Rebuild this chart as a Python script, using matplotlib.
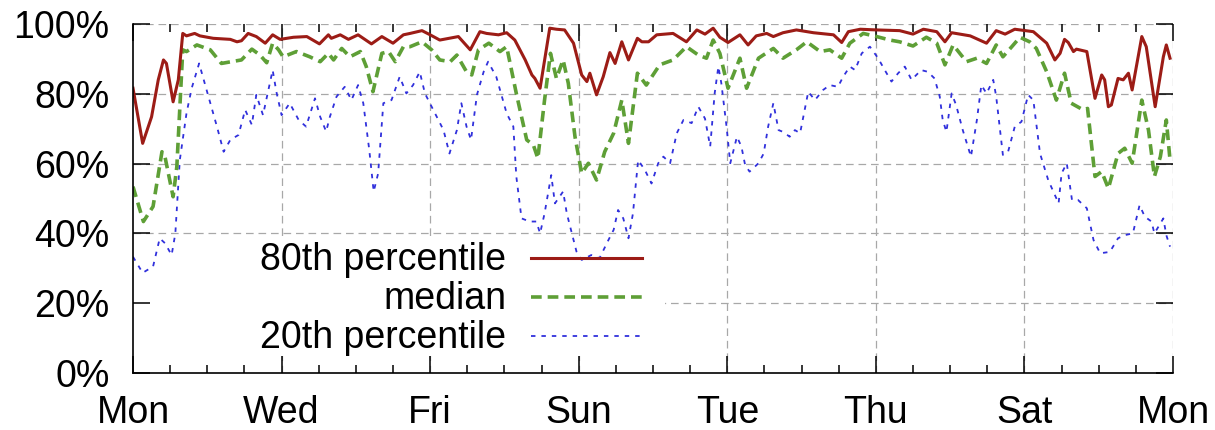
import matplotlib
matplotlib.use("Agg")
import matplotlib.pyplot as plt
from matplotlib.patches import Rectangle

plt.rcParams['font.family'] = ['Liberation Sans', 'DejaVu Sans']
plt.rcParams['lines.scale_dashes'] = False

# ---------------- data (x in days since Monday 00:00) ----------------
day_ticks = [0, 2, 4, 6, 8, 10, 12, 14]
day_labels = ["Mon", "Wed", "Fri", "Sun", "Tue", "Thu", "Sat", "Mon"]
pct_ticks = [0, 20, 40, 60, 80, 100]
pct_labels = ["0%", "20%", "40%", "60%", "80%", "100%"]

series_labels = ["80th percentile", "median", "20th percentile"]

days_p80 = [
    0.00, 0.13, 0.25, 0.34, 0.41, 0.45, 0.54, 0.61, 0.67, 0.72,
    0.83, 0.90, 1.08, 1.31, 1.40, 1.46, 1.55, 1.66, 1.78, 1.88,
    1.98, 2.16, 2.34, 2.51, 2.63, 2.67, 2.79, 2.90, 3.03, 3.21,
    3.35, 3.50, 3.64, 3.73, 3.89, 4.00, 4.13, 4.38, 4.54, 4.67,
    4.76, 4.92, 5.03, 5.14, 5.28, 5.37, 5.41, 5.48, 5.61, 5.70,
    5.81, 5.93, 6.04, 6.11, 6.15, 6.24, 6.33, 6.42, 6.49, 6.58,
    6.67, 6.79, 6.85, 6.94, 7.05, 7.27, 7.45, 7.59, 7.70, 7.81,
    7.90, 8.01, 8.17, 8.28, 8.39, 8.53, 8.62, 8.75, 8.93, 9.16,
    9.43, 9.54, 9.63, 9.79, 10.01, 10.32, 10.50, 10.64, 10.82, 10.93,
    11.02, 11.27, 11.49, 11.62, 11.74, 11.87, 12.12, 12.30, 12.41, 12.48,
    12.54, 12.59, 12.66, 12.70, 12.84, 12.95, 13.04, 13.08, 13.13, 13.17,
    13.26, 13.33, 13.40, 13.45, 13.58, 13.64, 13.76, 13.87, 13.91, 13.96]
p80 = [
    81.6, 65.8, 73.4, 84.0, 89.7, 88.7, 77.7, 84.0, 97.3, 96.6,
    97.3, 96.6, 95.9, 95.6, 94.9, 95.2, 97.3, 96.4, 94.5, 96.9,
    95.6, 96.2, 96.4, 94.3, 96.9, 95.9, 96.9, 95.6, 96.9, 94.3,
    96.4, 94.5, 96.9, 97.3, 98.1, 96.9, 95.4, 96.4, 92.6, 97.8,
    97.3, 96.9, 97.5, 95.4, 89.7, 85.4, 84.4, 81.6, 98.8, 98.5,
    98.3, 94.5, 85.4, 83.5, 85.9, 79.7, 84.9, 91.8, 88.7, 94.9,
    89.7, 95.9, 94.9, 94.9, 96.9, 97.3, 94.9, 98.3, 97.1, 98.8,
    96.2, 94.7, 96.9, 94.0, 96.6, 97.3, 96.4, 97.5, 98.3, 97.5,
    96.9, 94.7, 97.8, 98.5, 98.3, 98.1, 97.1, 98.5, 97.8, 94.9,
    97.5, 96.6, 94.5, 98.1, 97.1, 98.5, 97.8, 94.5, 89.7, 91.6,
    95.6, 94.7, 92.1, 92.8, 92.1, 78.7, 85.4, 84.0, 76.3, 76.8,
    84.4, 84.0, 85.9, 81.1, 96.4, 93.5, 76.3, 90.6, 94.0, 90.2]

days_med = [
    0.00, 0.14, 0.27, 0.39, 0.43, 0.54, 0.59, 0.67, 0.72, 0.86,
    1.04, 1.19, 1.35, 1.46, 1.60, 1.71, 1.80, 1.88, 1.96, 2.02,
    2.20, 2.38, 2.52, 2.63, 2.70, 2.81, 2.92, 3.06, 3.14, 3.23,
    3.35, 3.44, 3.53, 3.64, 3.73, 3.89, 4.02, 4.13, 4.27, 4.36,
    4.49, 4.56, 4.65, 4.79, 4.94, 5.03, 5.16, 5.30, 5.39, 5.45,
    5.54, 5.62, 5.70, 5.79, 5.86, 5.95, 6.04, 6.13, 6.24, 6.35,
    6.47, 6.58, 6.67, 6.79, 6.91, 7.09, 7.27, 7.45, 7.61, 7.72,
    7.81, 7.90, 8.01, 8.17, 8.26, 8.42, 8.62, 8.75, 8.93, 9.07,
    9.25, 9.38, 9.54, 9.65, 9.83, 10.01, 10.19, 10.32, 10.50, 10.68,
    10.82, 10.93, 11.04, 11.22, 11.36, 11.49, 11.62, 11.71, 11.83, 11.94,
    12.07, 12.16, 12.30, 12.43, 12.54, 12.63, 12.79, 12.85, 12.95, 13.04,
    13.13, 13.26, 13.35, 13.45, 13.58, 13.67, 13.75, 13.83, 13.91, 13.96]
med = [
    53.4, 43.4, 47.7, 63.4, 62.0, 50.5, 59.1, 92.6, 92.1, 94.0,
    92.6, 88.7, 89.3, 89.7, 92.8, 91.1, 88.9, 94.5, 92.6, 90.6,
    92.1, 90.6, 89.2, 91.6, 89.7, 93.0, 90.6, 92.1, 87.8, 80.6,
    91.6, 92.1, 89.2, 93.5, 93.5, 94.9, 92.6, 89.7, 89.2, 91.1,
    86.3, 85.4, 92.6, 94.5, 92.1, 93.5, 80.1, 66.8, 65.3, 61.5,
    78.2, 91.6, 84.4, 89.7, 83.0, 67.7, 57.2, 60.1, 55.3, 63.4,
    68.7, 78.2, 65.8, 85.9, 82.5, 88.3, 89.7, 93.5, 91.1, 90.2,
    95.4, 91.6, 81.6, 90.2, 81.6, 90.2, 93.0, 90.2, 92.6, 94.9,
    92.1, 92.6, 90.2, 94.5, 97.3, 96.4, 95.4, 94.9, 93.7, 96.2,
    94.5, 88.3, 94.0, 89.2, 90.2, 88.7, 94.0, 90.6, 93.5, 96.2,
    94.9, 93.0, 86.3, 78.2, 85.9, 77.3, 75.4, 75.8, 56.3, 57.7,
    52.9, 62.9, 64.4, 60.1, 78.2, 69.6, 56.3, 62.0, 72.5, 61.0]

days_p20 = [
    0.00, 0.13, 0.27, 0.36, 0.43, 0.52, 0.57, 0.63, 0.72, 0.79,
    0.89, 1.01, 1.13, 1.22, 1.31, 1.42, 1.51, 1.60, 1.66, 1.75,
    1.88, 1.93, 2.00, 2.11, 2.23, 2.33, 2.45, 2.52, 2.60, 2.65,
    2.74, 2.85, 2.94, 3.03, 3.10, 3.18, 3.24, 3.30, 3.37, 3.48,
    3.59, 3.68, 3.77, 3.86, 3.93, 4.02, 4.18, 4.26, 4.36, 4.42,
    4.49, 4.55, 4.63, 4.72, 4.78, 4.89, 5.03, 5.12, 5.16, 5.23,
    5.34, 5.43, 5.48, 5.54, 5.63, 5.68, 5.79, 5.84, 5.93, 5.97,
    6.04, 6.17, 6.28, 6.40, 6.47, 6.53, 6.60, 6.67, 6.73, 6.80,
    6.89, 6.98, 7.07, 7.14, 7.23, 7.32, 7.41, 7.52, 7.61, 7.70,
    7.77, 7.83, 7.88, 7.92, 7.99, 8.04, 8.13, 8.19, 8.24, 8.30,
    8.42, 8.49, 8.55, 8.62, 8.69, 8.75, 8.84, 8.91, 8.98, 9.09,
    9.18, 9.29, 9.38, 9.49, 9.56, 9.65, 9.72, 9.81, 9.92, 10.03,
    10.12, 10.21, 10.30, 10.39, 10.48, 10.61, 10.70, 10.79, 10.86, 10.90,
    10.95, 11.02, 11.08, 11.17, 11.28, 11.36, 11.42, 11.49, 11.58, 11.62,
    11.71, 11.78, 11.87, 11.96, 12.05, 12.12, 12.21, 12.32, 12.46, 12.50,
    12.57, 12.64, 12.72, 12.84, 12.93, 13.02, 13.15, 13.26, 13.35, 13.46,
    13.55, 13.62, 13.71, 13.75, 13.87, 13.91, 13.96]
p20 = [
    33.3, 28.7, 30.5, 38.6, 37.2, 33.8, 40.0, 61.0, 74.4, 81.6,
    88.7, 79.7, 70.6, 63.4, 66.8, 68.2, 75.4, 71.1, 79.7, 73.9,
    86.8, 80.6, 73.9, 77.3, 72.5, 70.6, 78.7, 73.4, 69.2, 73.4,
    79.2, 82.0, 78.2, 82.5, 77.3, 64.0, 52.0, 57.2, 77.3, 78.2,
    84.9, 80.1, 82.5, 86.3, 80.1, 76.3, 69.6, 62.9, 69.6, 77.3,
    70.6, 66.8, 79.7, 86.3, 89.2, 84.9, 74.4, 70.6, 56.3, 44.3,
    43.4, 43.4, 40.0, 45.7, 56.7, 48.6, 52.0, 45.7, 38.1, 34.8,
    32.4, 33.8, 32.9, 38.1, 41.0, 46.7, 44.3, 38.6, 45.7, 61.0,
    58.2, 54.3, 60.1, 62.0, 60.1, 68.7, 72.5, 71.6, 76.3, 72.9,
    64.9, 80.1, 87.8, 83.0, 70.6, 60.1, 67.7, 64.9, 59.6, 57.7,
    60.1, 62.9, 70.6, 77.3, 69.6, 69.1, 67.7, 69.6, 68.7, 80.6,
    78.2, 81.1, 82.5, 82.0, 84.9, 87.8, 86.8, 91.6, 93.5, 90.2,
    86.8, 83.5, 85.9, 87.8, 84.0, 86.8, 86.3, 84.4, 79.2, 72.5,
    69.1, 80.1, 76.8, 69.6, 62.0, 72.5, 82.5, 80.1, 84.0, 79.2,
    62.5, 63.4, 70.6, 72.0, 79.7, 78.2, 62.9, 55.3, 48.6, 57.2,
    60.1, 49.6, 49.6, 47.2, 38.1, 34.3, 34.7, 38.6, 39.5, 40.0,
    48.1, 44.8, 43.4, 40.0, 44.3, 39.5, 36.2]

# ---------------- styles ----------------
RED = "#9c1c16"
GREEN = "#5e9f36"
BLUE = "#3030dc"
GRID = "#a8a8a8"
FS = 27

fig = plt.figure(figsize=(12.15, 4.30), dpi=100)
ax = fig.add_axes([133 / 1215, 57 / 430, 1040 / 1215, 349 / 430])
ax.set_xlim(0, 14)
ax.set_ylim(0, 100)

# gridlines (drawn manually so the key box can hide them but not the ticks)
for yv in pct_ticks[1:]:
    ax.axhline(yv, color=GRID, lw=0.9, dashes=(5.5, 3.5), zorder=0.6)
for xv in day_ticks[1:]:
    ax.axvline(xv, color=GRID, lw=0.9, dashes=(5.5, 3.5), zorder=0.6)

# opaque key area
ax.add_patch(Rectangle((0, 0.049), 0.5115, 0.338, transform=ax.transAxes,
                       facecolor="white", edgecolor="none", zorder=1.0))

# data
ax.plot(days_p80, p80, color=RED, lw=2.2, solid_joinstyle="round", zorder=2.3)
ax.plot(days_med, med, color=GREEN, lw=2.6, dashes=(7.7, 4.3), zorder=2.2)
ax.plot(days_p20, p20, color=BLUE, lw=1.3, dashes=(3.2, 4.3), zorder=2.1)

# key (text right-aligned, sample to the right)
key_styles = [dict(color=RED, lw=2.2),
              dict(color=GREEN, lw=2.6, dashes=(7.7, 4.3)),
              dict(color=BLUE, lw=1.3, dashes=(3.2, 4.3))]
key_rows = [0.3295, 0.2178, 0.106]
for lab, sty, yr in zip(series_labels, key_styles, key_rows):
    ax.annotate(lab, xy=(0.3587, yr), xycoords="axes fraction",
                xytext=(0, -8.8), textcoords="offset points",
                ha="right", va="baseline", fontsize=FS, zorder=3)
    ax.plot([0.3827, 0.4894], [yr, yr], transform=ax.transAxes,
            clip_on=False, zorder=3, **sty)

# ticks
ax.set_xticks(day_ticks)
ax.set_xticklabels(day_labels)
ax.set_xticks([d / 2 for d in range(0, 29)], minor=True)
ax.set_yticks(pct_ticks)
ax.set_yticklabels(pct_labels)
ax.tick_params(which="both", direction="in", top=True, right=True,
               width=1.1, color="black", labelsize=FS)
ax.tick_params(which="major", length=12.5)
ax.tick_params(which="minor", length=6)
ax.tick_params(axis="y", pad=17)
ax.tick_params(axis="x", pad=16)

for s in ("top", "right"):
    ax.spines[s].set_visible(False)
for s in ("left", "bottom"):
    ax.spines[s].set_linewidth(1.2)
    ax.spines[s].set_zorder(3)

fig.savefig("out.png", dpi=100)
